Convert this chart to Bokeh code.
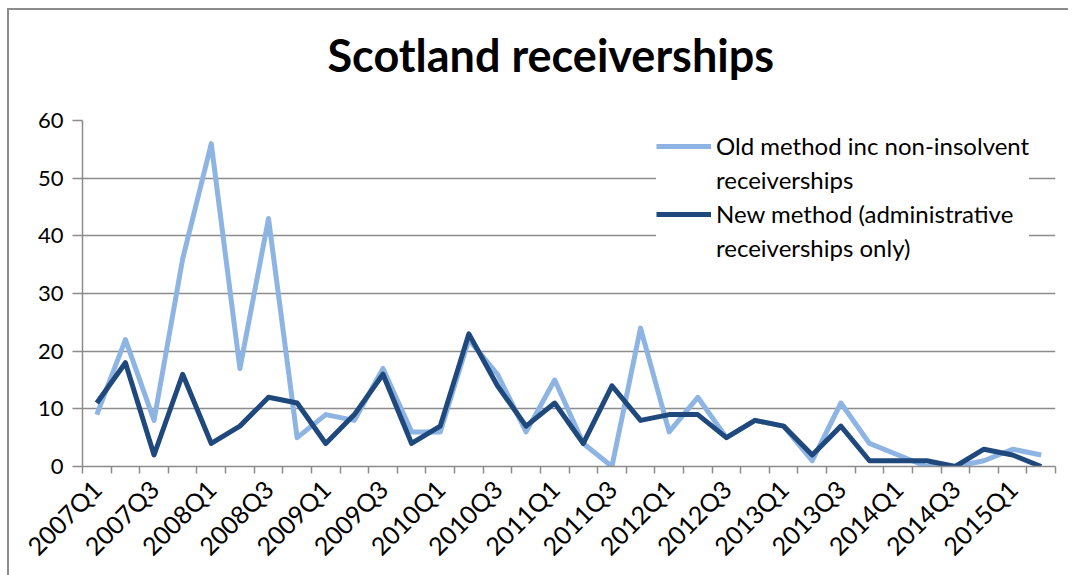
import math
from bokeh.plotting import figure
from bokeh.models import Range1d, FixedTicker, Legend, LegendItem, Title
from bokeh.embed import file_html
from bokeh.resources import INLINE

quarters = [f"{y}Q{q}" for y in range(2007, 2016) for q in range(1, 5)][:34]
old_method = [9, 22, 8, 36, 56, 17, 43, 5, 9, 8, 17, 6, 6, 22, 16, 6, 15, 4, 0, 24,
              6, 12, 5, 8, 7, 1, 11, 4, 2, 0, 0, 1, 3, 2]
new_method = [11, 18, 2, 16, 4, 7, 12, 11, 4, 9, 16, 4, 7, 23, 14, 7, 11, 4, 14, 8,
              9, 9, 5, 8, 7, 2, 7, 1, 1, 1, 0, 3, 2, 0]
y_ticks = [0, 10, 20, 30, 40, 50, 60]

FONT = "Lato"
GRID = "#8c8c8c"
LIGHT = "#8db4e3"
DARK = "#1f497d"

xs = list(range(len(quarters)))

p = figure(width=1068, height=575, output_backend="svg", toolbar_location=None,
           x_range=Range1d(-0.5, len(quarters) - 0.5), y_range=Range1d(0, 60),
           min_border_left=82, min_border_right=13, min_border_top=120, min_border_bottom=109,
           title="Scotland receiverships",
           styles={"background-color": "white",
                   "box-shadow": "inset 7px 8px 0 0 white, inset 9px 10px 0 0 #8c8c8c"})
p.outline_line_color = None
p.background_fill_color = "white"
p.border_fill_color = None

p.title.text_font = FONT
p.title.text_font_size = "45px"
p.title.text_font_style = "bold"
p.title.text_color = "black"
p.title.align = "left"
p.title.offset = 245
p.title.standoff = 0
# spacer between the title and the plot area
p.add_layout(Title(text=" ", text_font_size="2px", standoff=35), "above")

r_old = p.line(xs, old_method, line_color=LIGHT, line_width=5, line_join="round")
r_new = p.line(xs, new_method, line_color=DARK, line_width=5, line_join="round")
r_blank = p.line([], [], line_alpha=0)

# x axis: tick marks between categories, labels every second quarter
xa = p.xaxis[0]
xa.ticker = FixedTicker(ticks=xs[::2], minor_ticks=[i - 0.5 for i in range(len(quarters) + 1)])
xa.major_label_overrides = {i: quarters[i] for i in xs[::2]}
xa.major_label_orientation = math.pi / 4
xa.major_tick_line_color = None
xa.minor_tick_line_color = GRID
xa.minor_tick_line_width = 1.5
xa.minor_tick_in = 0
xa.minor_tick_out = 7
xa.axis_line_color = GRID
xa.axis_line_width = 1.5
xa.major_label_text_font = FONT
xa.major_label_text_font_size = "25px"
xa.major_label_text_color = "black"
xa.major_label_standoff = 11

ya = p.yaxis[0]
ya.ticker = FixedTicker(ticks=y_ticks)
ya.minor_tick_line_color = None
ya.major_tick_line_color = GRID
ya.major_tick_line_width = 1.5
ya.major_tick_in = 0
ya.major_tick_out = 10
ya.axis_line_color = GRID
ya.axis_line_width = 1.5
ya.major_label_text_font = FONT
ya.major_label_text_font_size = "22px"
ya.major_label_text_color = "black"
ya.major_label_standoff = 9

p.xgrid.grid_line_color = None
p.ygrid.ticker = FixedTicker(ticks=y_ticks)
p.ygrid.grid_line_color = GRID
p.ygrid.grid_line_width = 1.5

legend = Legend(items=[
    LegendItem(label="Old method inc non-insolvent", renderers=[r_old]),
    LegendItem(label="receiverships", renderers=[r_blank]),
    LegendItem(label="New method (administrative", renderers=[r_new]),
    LegendItem(label="receiverships only)", renderers=[r_blank]),
], location=(574, 204))
legend.label_text_font = FONT
legend.label_text_font_size = "24px"
legend.label_text_color = "black"
legend.glyph_width = 55
legend.glyph_height = 26
legend.label_height = 26
legend.label_standoff = 5
legend.spacing = 5
legend.padding = 10
legend.margin = 0
legend.border_line_color = None
legend.background_fill_color = "white"
legend.background_fill_alpha = 1
p.add_layout(legend)

open("out.html", "w").write(file_html(p, INLINE))
